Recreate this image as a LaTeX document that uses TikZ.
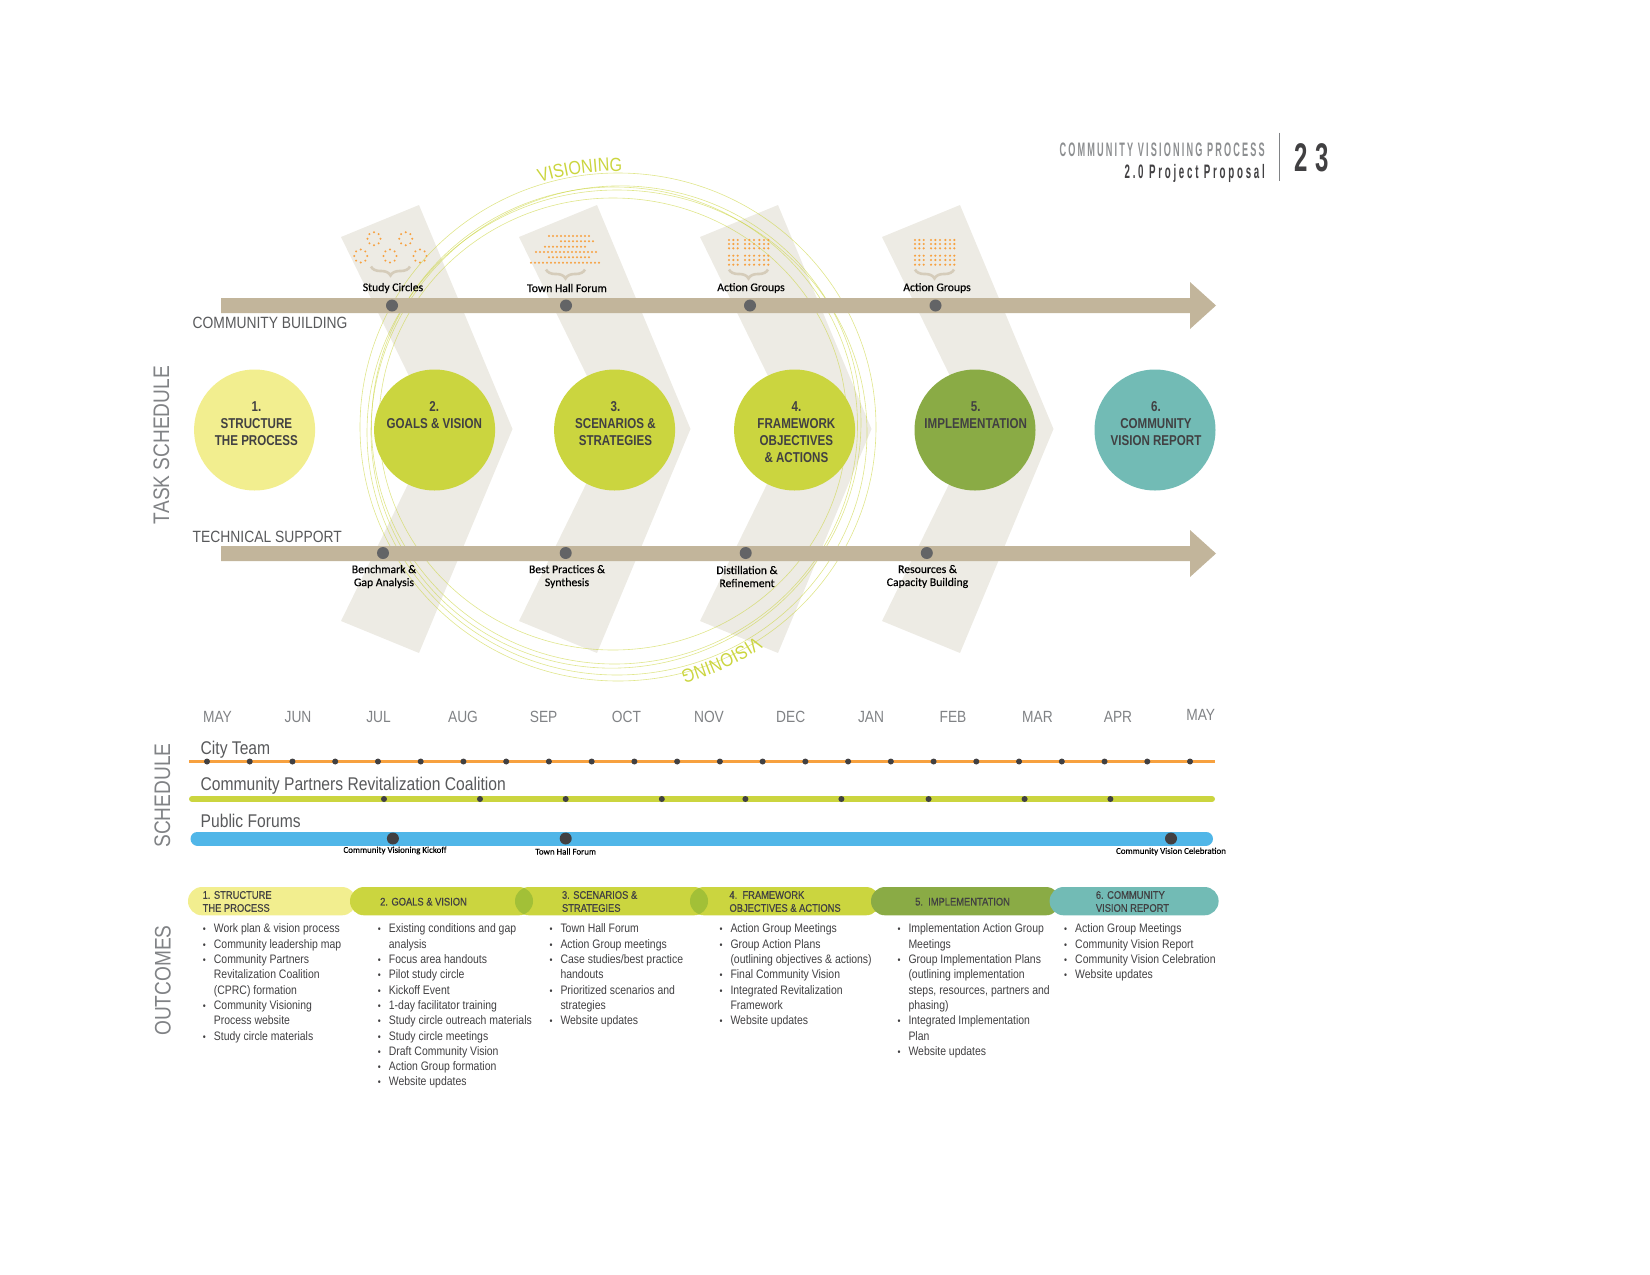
\documentclass[tikz,border=0pt]{standalone}
\usepackage{fontspec}
\setmainfont[FakeStretch=0.85]{Liberation Sans}
\newfontfamily\labelfont[FakeBold=0.3]{Carlito}
\newfontfamily\pillfont[FakeStretch=0.85,FakeBold=0.5]{Liberation Sans}
\newfontfamily\stepfont[FakeStretch=0.81]{Liberation Sans}
\newfontfamily\headfont[FakeStretch=0.5,LetterSpace=14]{Liberation Sans}
\newfontfamily\capsfont[FakeStretch=0.47,LetterSpace=11]{Liberation Sans}
\newfontfamily\pagefont[FakeStretch=0.6,LetterSpace=20]{Liberation Sans}
\usetikzlibrary{positioning, calc, decorations.text, decorations.pathreplacing}

\definecolor{barTan}{HTML}{C2B59B}
\definecolor{chevronGray}{HTML}{EDEBE4}
\definecolor{dotGray}{HTML}{636466}
\definecolor{darkGray}{HTML}{414042}
\definecolor{midGray}{HTML}{58595B}
\definecolor{monthGray}{HTML}{808285}
\definecolor{paleYellow}{HTML}{F2EE8F}
\definecolor{limeGreen}{HTML}{CBD53F}
\definecolor{lensGreen}{HTML}{A2C037}
\definecolor{oliveGreen}{HTML}{8AAB45}
\definecolor{tealGreen}{HTML}{72BBB5}
\definecolor{dotOrange}{HTML}{F7A13F}
\definecolor{skyBlue}{HTML}{50B6E8}
\definecolor{braceTan}{HTML}{D5CCBA}

\newcommand{\bul}{\strut\makebox[11pt][l]{\fontsize{10}{10}\selectfont\textbullet}}
\newcommand{\cont}{\strut\hspace*{11pt}}

\tikzset{
    ring/.style={draw=limeGreen, line width=0.6pt, opacity=0.6},
    bigdot/.style={circle, fill=dotGray, inner sep=0pt, minimum size=12pt},
    tinydot/.style={circle, fill=darkGray, inner sep=0pt, minimum size=6pt},
    forumdot/.style={circle, fill=darkGray, inner sep=0pt, minimum size=12pt},
    stepcircle/.style={circle, inner sep=0pt, minimum size=121pt},
    steptext/.style={anchor=north, align=center, inner sep=0pt, text=darkGray,
        font=\stepfont\fontsize{14.3}{17}\selectfont\bfseries},
    tagtext/.style={align=center, inner sep=0pt, text=black,
        font=\labelfont\fontsize{11.7}{13}\selectfont},
    forumtext/.style={align=center, inner sep=0pt, text=black,
        font=\labelfont\fontsize{8.9}{11}\selectfont},
    sidetext/.style={rotate=90, inner sep=0pt, text=monthGray,
        font=\fontsize{22.5}{24}\selectfont},
    rowtext/.style={anchor=base west, inner sep=0pt, text=midGray,
        font=\fontsize{18.4}{20}\selectfont},
    bartext/.style={anchor=base west, inner sep=0pt, text=midGray,
        font=\fontsize{16.3}{19}\selectfont},
    monthtext/.style={inner sep=0pt, text=monthGray, font=\fontsize{16.2}{18}\selectfont},
    pilltext/.style={anchor=west, align=left, inner sep=0pt, text=darkGray,
        font=\pillfont\fontsize{11}{13}\selectfont},
    listtext/.style={anchor=north west, align=left, inner sep=0pt, text=darkGray,
        font=\fontsize{12.3}{15.3}\selectfont},
    icondot/.style={fill=dotOrange},
    bracket/.style={draw=braceTan, line width=2.6pt, decorate,
        decoration={brace, amplitude=9pt}},
}

\begin{document}
\begin{tikzpicture}[x=1pt, y=-1pt]
    \useasboundingbox (0,0) rectangle (1650,1275);

    % ==========================================
    % 1. Chevrons and rings behind everything
    % ==========================================
    \foreach \x in {341,519,700,882}
        \fill[chevronGray] (\x,237) -- ({\x+78},205) -- ({\x+171.5},429)
            -- ({\x+78},653) -- (\x,621) -- ({\x+94},429) -- cycle;

    \draw[ring] (618,427) ellipse [x radius=258pt, y radius=254pt];
    \draw[ring] (613,424) ellipse [x radius=234pt, y radius=226pt];
    \draw[ring] (614.5,425.5) ellipse [x radius=243pt, y radius=238.5pt];
    \draw[ring] (617,432.5) ellipse [x radius=250pt, y radius=242.5pt];
    \draw[ring, rotate around={25:(616,427)}] (616,427) ellipse [x radius=246pt, y radius=240pt];

    \path[decorate, decoration={text along path, text align=fit to path,
        text={|\color{limeGreen}\fontsize{19}{19}\selectfont|VISIONING}}]
        (540,183) arc [start angle=107.5, end angle=89.5, radius=256pt];
    \path[decorate, decoration={text along path, text align=fit to path,
        text={|\color{limeGreen}\fontsize{19}{19}\selectfont|VISIONING}}]
        (756,636) arc [start angle=-56, end angle=-75, radius=252pt];

    % ==========================================
    % 2. Community building and technical support bars
    % ==========================================
    \fill[barTan] (221,298) -- (1190,298) -- (1190,282) -- (1216,305.5)
        -- (1190,329) -- (1190,313) -- (221,313) -- cycle;
    \fill[barTan] (221,546) -- (1190,546) -- (1190,530) -- (1216,553.5)
        -- (1190,577) -- (1190,561) -- (221,561) -- cycle;

    \node[bigdot] (cb1) at (392,305.5) {};
    \node[bigdot] (cb2) at (566,305.5) {};
    \node[bigdot] (cb3) at (750,305.5) {};
    \node[bigdot] (cb4) at (935.5,305.5) {};
    \node[bigdot] (ts1) at (383,553) {};
    \node[bigdot] (ts2) at (565.7,553) {};
    \node[bigdot] (ts3) at (745.7,553) {};
    \node[bigdot] (ts4) at (926.8,553) {};

    \node[tagtext] (cbtag1) at (393,288) {Study Circles};
    \node[tagtext] (cbtag2) at (567,288) {Town Hall Forum};
    \node[tagtext] (cbtag3) at (751,288) {Action Groups};
    \node[tagtext] (cbtag4) at (937,288) {Action Groups};
    \node[tagtext] (tstag1) at (384,576.5) {Benchmark \&\\Gap Analysis};
    \node[tagtext] (tstag2) at (567,576.5) {Best Practices \&\\Synthesis};
    \node[tagtext] (tstag3) at (747,576.5) {Distillation \&\\Refinement};
    \node[tagtext] (tstag4) at (927.5,576.5) {Resources \&\\Capacity Building};

    \node[bartext] (cbname) at (192.5,328.8) {COMMUNITY BUILDING};
    \node[bartext] (tsname) at (192.5,542.8) {TECHNICAL SUPPORT};

    \node[sidetext] (sidetask) at (161.5,445) {TASK SCHEDULE};
    \node[sidetext] (sidesched) at (162.5,795.5) {SCHEDULE};
    \node[sidetext] (sideout) at (163,980.5) {OUTCOMES};

    % ==========================================
    % 3. Icons above the community building bar
    % ==========================================
    % Study circles
    \foreach \cx/\cy in {374/238.7, 405.7/238.7, 360.7/256, 390/256, 420/256}
        \foreach \a in {0,45,...,315}
            \fill[icondot] ($(\cx,\cy)+(\a:6.5pt)$) circle (1.1pt);
    % Town hall rows
    \foreach \ry/\rx/\rn in {236/549/10, 241.3/561/8, 246.7/545/10, 252/536/15, 257.3/549/10, 262.7/531/17}
        \foreach \i in {0,...,\rn}
            \fill[icondot] ({\rx+\i*4},\ry) circle (1.1pt);
    % Action group blocks
    \foreach \bx in {729,915}
        \foreach \i in {0,4.3,8.7,16,20.3,25,30.3,35,39.3}
            \foreach \by in {240,244,248.3,255.7,260,264.7}
                \fill[icondot] ({\bx+\i},\by) circle (1.2pt);

    \draw[bracket] (410,266.5) -- (371,266.5);
    \draw[bracket] (585,269.5) -- (546,269.5);
    \draw[bracket] (768,269.5) -- (729,269.5);
    \draw[bracket] (954,269.5) -- (915,269.5);

    % ==========================================
    % 4. Step circles
    % ==========================================
    \node[stepcircle, fill=paleYellow] (step1) at (254.6,430) {};
    \node[stepcircle, fill=limeGreen] (step2) at (434.6,430) {};
    \node[stepcircle, fill=limeGreen] (step3) at (614.6,430) {};
    \node[stepcircle, fill=limeGreen] (step4) at (794.6,430) {};
    \node[stepcircle, fill=oliveGreen] (step5) at (975,430) {};
    \node[stepcircle, fill=tealGreen] (step6) at (1155,430) {};

    \node[steptext] (steptext1) at (256.4,401) {1.\\STRUCTURE\\THE PROCESS};
    \node[steptext] (steptext2) at (434.3,401) {2.\\GOALS \& VISION};
    \node[steptext] (steptext3) at (615.4,401) {3.\\SCENARIOS \&\\STRATEGIES};
    \node[steptext] (steptext4) at (796.4,401) {4.\\FRAMEWORK\\OBJECTIVES\\\& ACTIONS};
    \node[steptext] (steptext5) at (975.7,401) {5.\\IMPLEMENTATION};
    \node[steptext] (steptext6) at (1156,401) {6.\\COMMUNITY\\VISION REPORT};

    % ==========================================
    % 5. Months and schedule lines
    % ==========================================
    \foreach \m/\mx in {MAY/217.5, JUN/298, JUL/378.6, AUG/463, SEP/543.6, OCT/626.4,
                        NOV/709, DEC/790.7, JAN/871, FEB/953, MAR/1037.5, APR/1118}
        \node[monthtext] (month\m) at (\mx,717) {\m};
    \node[monthtext] (monthend) at (1200.7,715) {MAY};

    \node[rowtext] (cityname) at (200.5,754.5) {City Team};
    \node[rowtext] (cprcname) at (200.5,790.5) {Community Partners Revitalization Coalition};
    \node[rowtext] (forumname) at (200.5,827.5) {Public Forums};

    \draw[dotOrange, line width=3pt] (189,761.5) -- (1214.6,761.5);
    \draw[limeGreen, line width=6pt, line cap=round] (192,799) -- (1212,799);
    \draw[skyBlue, line width=14pt, line cap=round] (197.5,838.5) -- (1206,838.5);

    \foreach \i in {0,...,23}
        \node[tinydot] (city\i) at ({207+\i*42.74},761.5) {};
    \foreach \dx [count=\i] in {384,480,565.7,661.8,745.4,841.4,928.6,1024.6,1110.4}
        \node[tinydot] (cprc\i) at (\dx,799) {};

    \node[forumdot] (forum1) at (392.9,838.5) {};
    \node[forumdot] (forum2) at (565.7,838.5) {};
    \node[forumdot] (forum3) at (1171,838.5) {};

    \node[forumtext] (forumtag1) at (395,850.5) {Community Visioning Kickoff};
    \node[forumtext] (forumtag2) at (565.7,851.5) {Town Hall Forum};
    \node[forumtext] (forumtag3) at (1171,851.5) {Community Vision Celebration};

    % ==========================================
    % 6. Outcome pills
    % ==========================================
    \fill[paleYellow, rounded corners=14pt] (188,887) rectangle (356,915.3);
    \fill[limeGreen, rounded corners=14pt] (350,887) rectangle (533,915.3);
    \fill[limeGreen, rounded corners=14pt] (515,887) rectangle (708,915.3);
    \fill[limeGreen, rounded corners=14pt] (690,887) rectangle (880,915.3);
    \fill[oliveGreen, rounded corners=14pt] (871,887) rectangle (1060,915.3);
    \fill[tealGreen, rounded corners=14pt] (1049.6,887) rectangle (1218.6,915.3);
    % Lens where two neighbours overlap
    \begin{scope}
        \clip[rounded corners=14pt] (515,887) rectangle (708,915.3);
        \fill[lensGreen, rounded corners=14pt] (350,887) rectangle (533,915.3);
    \end{scope}
    \begin{scope}
        \clip[rounded corners=14pt] (690,887) rectangle (880,915.3);
        \fill[lensGreen, rounded corners=14pt] (515,887) rectangle (708,915.3);
    \end{scope}

    \node[pilltext] (pill1) at (202.5,901.5) {1. STRUCTURE\\THE PROCESS};
    \node[pilltext] (pill2) at (380,901.7) {2. GOALS \& VISION};
    \node[pilltext] (pill3) at (561.8,901.5) {3. SCENARIOS \&\\STRATEGIES};
    \node[pilltext] (pill4) at (729.3,901.5) {4.\ \ FRAMEWORK\\OBJECTIVES \& ACTIONS};
    \node[pilltext] (pill5) at (915,901.7) {5.\ \ IMPLEMENTATION};
    \node[pilltext] (pill6) at (1095.7,901.5) {6. COMMUNITY\\VISION REPORT};

    % ==========================================
    % 7. Outcome lists
    % ==========================================
    \node[listtext] (list1) at (202.7,922) {%
        \bul Work plan \& vision process\\
        \bul Community leadership map\\
        \bul Community Partners\\
        \cont Revitalization Coalition\\
        \cont (CPRC) formation\\
        \bul Community Visioning\\
        \cont Process website\\
        \bul Study circle materials};
    \node[listtext] (list2) at (377.7,922) {%
        \bul Existing conditions and gap\\
        \cont analysis\\
        \bul Focus area handouts\\
        \bul Pilot study circle\\
        \bul Kickoff Event\\
        \bul 1-day facilitator training\\
        \bul Study circle outreach materials\\
        \bul Study circle meetings\\
        \bul Draft Community Vision\\
        \bul Action Group formation\\
        \bul Website updates};
    \node[listtext] (list3) at (549.3,922) {%
        \bul Town Hall Forum\\
        \bul Action Group meetings\\
        \bul Case studies/best practice\\
        \cont handouts\\
        \bul Prioritized scenarios and\\
        \cont strategies\\
        \bul Website updates};
    \node[listtext] (list4) at (719.3,922) {%
        \bul Action Group Meetings\\
        \bul Group Action Plans\\
        \cont (outlining objectives \& actions)\\
        \bul Final Community Vision\\
        \bul Integrated Revitalization\\
        \cont Framework\\
        \bul Website updates};
    \node[listtext] (list5) at (897.3,922) {%
        \bul Implementation Action Group\\
        \cont Meetings\\
        \bul Group Implementation Plans\\
        \cont (outlining implementation\\
        \cont steps, resources, partners and\\
        \cont phasing)\\
        \bul Integrated Implementation\\
        \cont Plan\\
        \bul Website updates};
    \node[listtext] (list6) at (1064,922) {%
        \bul Action Group Meetings\\
        \bul Community Vision Report\\
        \bul Community Vision Celebration\\
        \bul Website updates};

    % ==========================================
    % 8. Page header
    % ==========================================
    \node[anchor=base east, inner sep=0pt, text=monthGray!90,
        font=\capsfont\fontsize{19.5}{20}\selectfont\bfseries] (headline) at (1265,156.5) {COMMUNITY VISIONING PROCESS};
    \node[anchor=base east, inner sep=0pt, text=darkGray,
        font=\headfont\fontsize{19.5}{20}\selectfont\bfseries] (headsub) at (1265,178.5) {2.0 Project Proposal};
    \coordinate (ruletop) at (1279.3,132.7);
    \coordinate (rulebottom) at (1279.3,181);
    \draw[monthGray, line width=0.8pt] (ruletop) -- (rulebottom);
    \node[anchor=base west, inner sep=0pt, text=darkGray,
        font=\pagefont\fontsize{40}{40}\selectfont\bfseries] (headpage) at (1294,171.7) {23};
\end{tikzpicture}
\end{document}
